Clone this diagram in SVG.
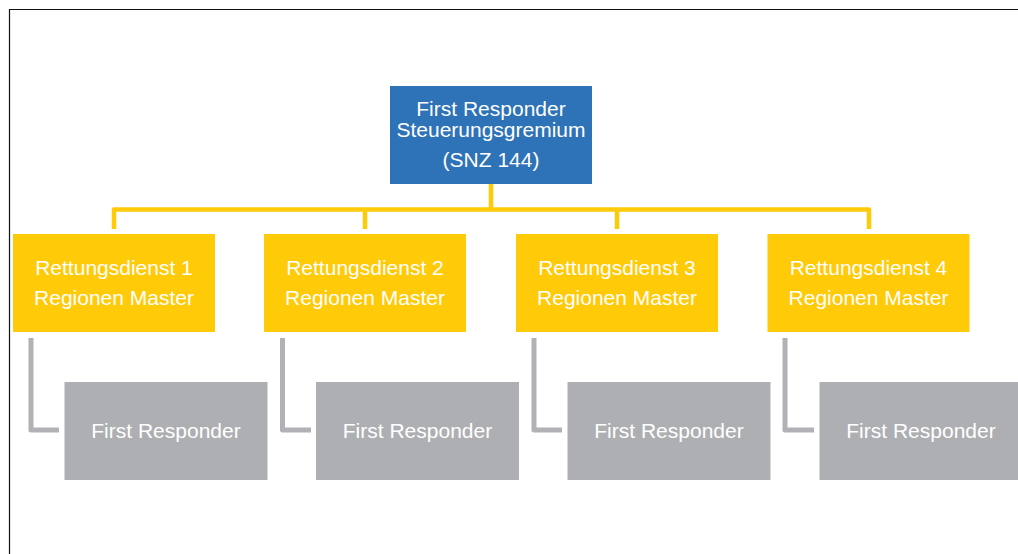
<svg xmlns="http://www.w3.org/2000/svg" width="1018" height="554" viewBox="0 0 1018 554">
<style>
.t{font-family:"Liberation Sans",Arial,sans-serif;font-size:21px;fill:#ffffff;text-anchor:middle}
.blue{fill:#2E72B7}
.yel{fill:#FFCA08}
.gray{fill:#AEAFB3}
.yc{fill:none;stroke:#FFCA08;stroke-width:4.5;stroke-linejoin:round}
.gc{fill:none;stroke:#B1B2B6;stroke-width:5;stroke-linejoin:round}
</style>
<rect width="1018" height="554" fill="#ffffff"/>
<path d="M9.5 554 V9.5 H1018" fill="none" stroke="#111111" stroke-width="1.2"/>
<g id="connectors">
<path class="yc" d="M114 229 V209.5 H869 V229"/>
<path class="yc" d="M365 209.5 V229 M617 209.5 V229 M491 184 V209.5"/>
<path class="gc" d="M31 338 V430 H59"/>
<path class="gc" d="M282.5 338 V430 H311"/>
<path class="gc" d="M534 338 V430 H562"/>
<path class="gc" d="M785 338 V430 H814"/>
</g>
<g id="root">
<rect class="blue" x="390" y="86" width="202" height="98"/>
<text class="t" x="491" y="116">First Responder</text>
<text class="t" x="491" y="137">Steuerungsgremium</text>
<text class="t" x="491" y="167">(SNZ 144)</text>
</g>
<g id="rd1">
<rect class="yel" x="13" y="234" width="202" height="98"/>
<text class="t" x="114" y="275">Rettungsdienst 1</text>
<text class="t" x="114" y="305">Regionen Master</text>
</g>
<g id="rd2">
<rect class="yel" x="264" y="234" width="202" height="98"/>
<text class="t" x="365" y="275">Rettungsdienst 2</text>
<text class="t" x="365" y="305">Regionen Master</text>
</g>
<g id="rd3">
<rect class="yel" x="516" y="234" width="202" height="98"/>
<text class="t" x="617" y="275">Rettungsdienst 3</text>
<text class="t" x="617" y="305">Regionen Master</text>
</g>
<g id="rd4">
<rect class="yel" x="767.5" y="234" width="202" height="98"/>
<text class="t" x="868.5" y="275">Rettungsdienst 4</text>
<text class="t" x="868.5" y="305">Regionen Master</text>
</g>
<g id="fr1">
<rect class="gray" x="64.5" y="382" width="203" height="98"/>
<text class="t" x="166" y="438">First Responder</text>
</g>
<g id="fr2">
<rect class="gray" x="316" y="382" width="203" height="98"/>
<text class="t" x="417.5" y="438">First Responder</text>
</g>
<g id="fr3">
<rect class="gray" x="567.5" y="382" width="203" height="98"/>
<text class="t" x="669" y="438">First Responder</text>
</g>
<g id="fr4">
<rect class="gray" x="819.5" y="382" width="203" height="98"/>
<text class="t" x="921" y="438">First Responder</text>
</g>
</svg>
